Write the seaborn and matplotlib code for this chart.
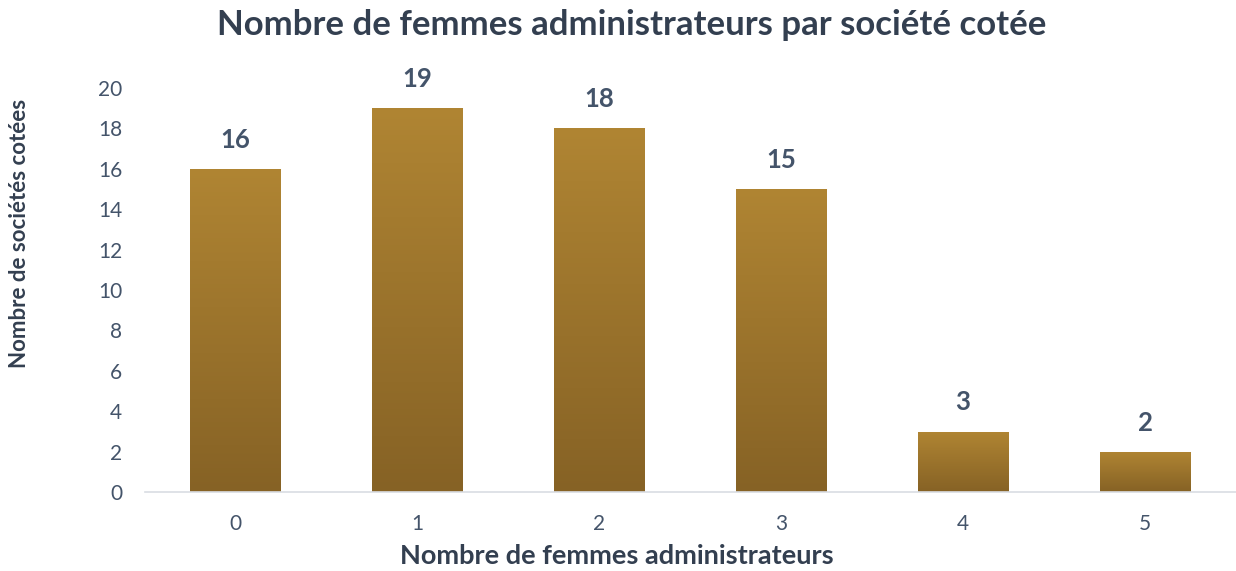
import numpy as np
import pandas as pd
import seaborn as sns
import matplotlib.pyplot as plt
from matplotlib.colors import LinearSegmentedColormap

# Data
categories = ['0', '1', '2', '3', '4', '5']
counts = [16, 19, 18, 15, 3, 2]
title = 'Nombre de femmes administrateurs par société cotée'
xlabel = 'Nombre de femmes administrateurs'
ylabel = 'Nombre de sociétés cotées'

df = pd.DataFrame({'femmes': categories, 'societes': counts})

sns.set_theme(style='white')
plt.rcParams['font.family'] = ['Lato', 'DejaVu Sans']

fig = plt.figure(figsize=(12.36, 5.71), dpi=100)
ax = fig.add_axes([0.117, 0.138, 0.883, 0.708])

bars = sns.barplot(data=df, x='femmes', y='societes', color='#9c7630', width=0.5, ax=ax)

# Vertical gradient inside each bar (light gold top, darker brown bottom)
grad_cmap = LinearSegmentedColormap.from_list('gold', ['#866225', '#b08533'])
for p in ax.patches:
    x0, y0 = p.get_x(), p.get_y()
    w, h = p.get_width(), p.get_height()
    if h <= 0:
        continue
    grad = np.linspace(0, 1, 256).reshape(-1, 1)
    im = ax.imshow(grad, cmap=grad_cmap, origin='lower', aspect='auto',
                   extent=[x0, x0 + w, y0, y0 + h], zorder=p.get_zorder() + 0.1)
    im.set_clip_path(p)
    ax.text(x0 + w / 2, h + 0.85, str(int(h)), ha='center', va='bottom',
            fontsize=18.5, fontweight='bold', color='#44546a', clip_on=False)

ax.set_xlim(-0.5, 5.5)
ax.set_ylim(0, 20)
ax.set_yticks(range(0, 21, 2))
ax.tick_params(axis='both', labelsize=15, colors='#44546a', length=0)
ax.tick_params(axis='x', pad=16)
ax.tick_params(axis='y', pad=16)
for s in ['top', 'right', 'left']:
    ax.spines[s].set_visible(False)
ax.spines['bottom'].set_color('#d9dde3')
ax.spines['bottom'].set_linewidth(1.2)

ax.set_xlabel(xlabel, fontsize=19.5, fontweight='bold', color='#333f50')
ax.xaxis.set_label_coords(0.433, -0.128)
ax.set_ylabel(ylabel, fontsize=16, fontweight='bold', color='#333f50')
ax.yaxis.set_label_coords(-0.105, 0.641)
fig.text(0.511, 0.956, title, ha='center', va='center',
         fontsize=25, fontweight='bold', color='#333f50')

fig.savefig('out.png', dpi=100)
